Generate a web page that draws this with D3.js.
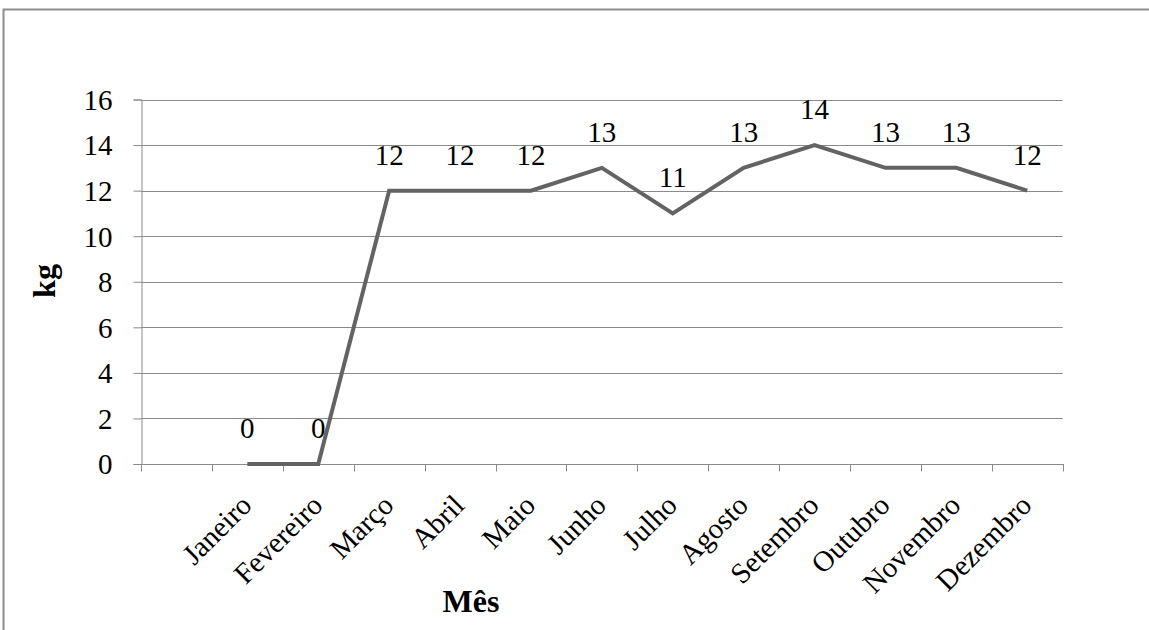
<!DOCTYPE html>
<html>
<head>
<meta charset="utf-8">
<script src="https://cdn.jsdelivr.net/npm/d3@7"></script>
<style>
  html, body { margin: 0; padding: 0; background: #fff; }
  svg { display: block; }
  text { font-family: "Liberation Serif", "Times New Roman", serif; fill: #000; }
</style>
</head>
<body>
<svg id="chart" width="1149" height="630"></svg>
<script>
// Monthly values (kg); the category axis has one empty slot before January
const categories = ["", "Janeiro", "Fevereiro", "Março", "Abril", "Maio", "Junho",
  "Julho", "Agosto", "Setembro", "Outubro", "Novembro", "Dezembro"];
const months = categories.slice(1);
const values = [0, 0, 12, 12, 12, 13, 11, 13, 14, 13, 13, 12];
const yTicks = [0, 2, 4, 6, 8, 10, 12, 14, 16];
const yTitle = "kg";
const xTitle = "Mês";

const serif = '"Liberation Serif", "Times New Roman", serif';
const svg = d3.select("#chart");
const gridColor = "#8a8a8a";
const lineColor = "#636363";

// outer frame
svg.append("rect")
  .attr("x", 3.5).attr("y", 9.5)
  .attr("width", 1300).attr("height", 800)
  .attr("fill", "#fff")
  .attr("stroke", "#8c8c8c").attr("stroke-width", 2);

const plotLeft = 141, plotRight = 1062.7, plotTop = 99.5, plotBottom = 464;

const x = d3.scaleBand().domain(categories).range([plotLeft, plotRight]).padding(0);
const y = d3.scaleLinear().domain([0, 16]).range([plotBottom, plotTop]);
const snap = v => Math.round(v) + 0.5;

// horizontal gridlines
svg.append("g")
  .selectAll("line")
  .data(yTicks.filter(d => d > 0))
  .join("line")
  .attr("x1", plotLeft).attr("x2", plotRight)
  .attr("y1", d => snap(y(d))).attr("y2", d => snap(y(d)))
  .attr("stroke", gridColor).attr("stroke-width", 1);

// y axis
const yAxis = svg.append("g")
  .attr("transform", `translate(${plotLeft + 0.5},0)`)
  .call(d3.axisLeft(y).tickValues(yTicks).tickSize(8).tickPadding(21).tickFormat(d3.format("d")));
yAxis.select(".domain").attr("stroke", gridColor);
yAxis.selectAll(".tick line").attr("stroke", gridColor);
yAxis.selectAll("text")
  .style("font-family", serif)
  .style("font-size", "29px")
  .attr("fill", "#000")
  .attr("dy", "0.34em");

// x axis: ticks at the category boundaries
const boundaries = categories.map(c => x(c)).concat([plotRight]);
svg.append("line")
  .attr("x1", plotLeft).attr("x2", plotRight + 0.5)
  .attr("y1", snap(plotBottom)).attr("y2", snap(plotBottom))
  .attr("stroke", gridColor).attr("stroke-width", 1);
svg.append("g")
  .selectAll("line")
  .data(boundaries)
  .join("line")
  .attr("x1", d => snap(d)).attr("x2", d => snap(d))
  .attr("y1", plotBottom).attr("y2", plotBottom + 7.5)
  .attr("stroke", gridColor).attr("stroke-width", 1);

// rotated month labels
const cx = m => x(m) + x.bandwidth() / 2;
svg.append("g")
  .selectAll("text")
  .data(months)
  .join("text")
  .attr("transform", m => `translate(${cx(m) + 6},${plotBottom + 43}) rotate(-45)`)
  .attr("text-anchor", "end")
  .style("font-family", serif)
  .style("font-size", "29px")
  .text(m => m);

// data line
const line = d3.line()
  .x((d, i) => cx(months[i]))
  .y(d => y(d));
svg.append("path")
  .datum(values)
  .attr("d", line)
  .attr("fill", "none")
  .attr("stroke", lineColor)
  .attr("stroke-width", 4)
  .attr("stroke-linejoin", "miter");

// value labels
svg.append("g")
  .selectAll("text")
  .data(values)
  .join("text")
  .attr("x", (d, i) => cx(months[i]))
  .attr("y", d => y(d) - 26)
  .attr("text-anchor", "middle")
  .style("font-family", serif)
  .style("font-size", "29px")
  .text(d => d);

// axis titles
svg.append("text")
  .attr("transform", "translate(55,281) rotate(-90)")
  .attr("text-anchor", "middle")
  .style("font-family", serif)
  .style("font-size", "32px").style("font-weight", "bold")
  .text(yTitle);
svg.append("text")
  .attr("x", 471).attr("y", 611.5)
  .attr("text-anchor", "middle")
  .style("font-family", serif)
  .style("font-size", "32px").style("font-weight", "bold")
  .text(xTitle);
</script>
</body>
</html>
